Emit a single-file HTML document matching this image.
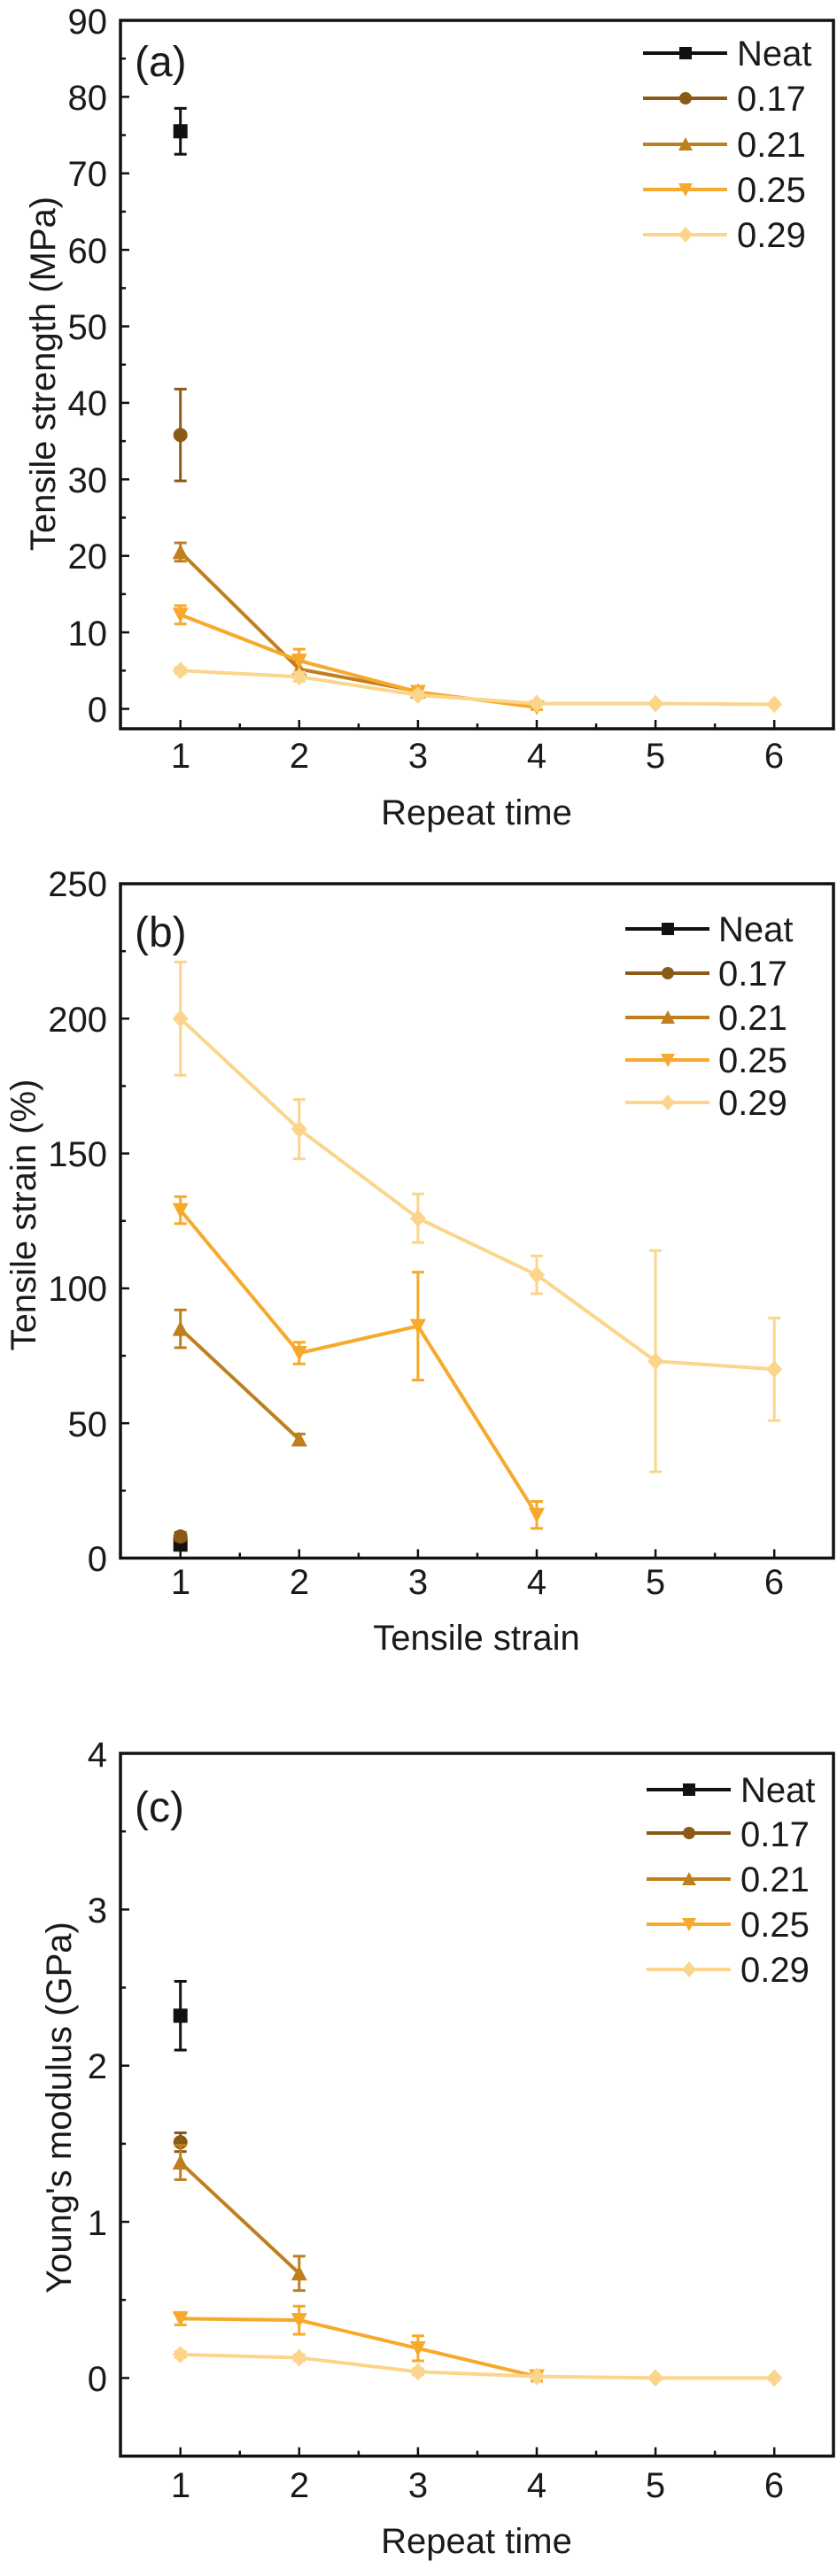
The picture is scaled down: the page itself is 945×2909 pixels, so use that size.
<!DOCTYPE html>
<html><head><meta charset="utf-8"><style>
html,body{margin:0;padding:0;background:#fff}
svg{display:block}
text{font-family:"Liberation Sans",Arial,sans-serif;fill:#1a1a1a}
.t{font-size:40px}
.ti{font-size:40px}
.lg{font-size:40px}
.pl{font-size:48px}
</style></head><body>
<svg id="s" width="945" height="2909" viewBox="0 0 945 2909" xmlns="http://www.w3.org/2000/svg">
<rect width="945" height="2909" fill="#fff"/>
<g id="g"></g>
<!-- Panel a text -->
<g class="t" text-anchor="end">
<text x="121" y="815">0</text><text x="121" y="729">10</text><text x="121" y="642">20</text><text x="121" y="556">30</text><text x="121" y="469">40</text><text x="121" y="383">50</text><text x="121" y="297">60</text><text x="121" y="210">70</text><text x="121" y="124">80</text><text x="121" y="38">90</text>
</g>
<g class="t" text-anchor="middle">
<text x="204" y="867">1</text><text x="338" y="867">2</text><text x="472" y="867">3</text><text x="606" y="867">4</text><text x="740" y="867">5</text><text x="874" y="867">6</text>
</g>
<text class="ti" x="538" y="931" text-anchor="middle">Repeat time</text>
<text class="ti" transform="translate(62,422) rotate(-90)" text-anchor="middle">Tensile strength (MPa)</text>
<text class="pl" x="152" y="86">(a)</text>
<g class="lg"><text x="832" y="74">Neat</text><text x="832" y="125">0.17</text><text x="832" y="177">0.21</text><text x="832" y="228">0.25</text><text x="832" y="279">0.29</text></g>

<!-- Panel b text -->
<g class="t" text-anchor="end">
<text x="121" y="1774">0</text><text x="121" y="1622">50</text><text x="121" y="1469">100</text><text x="121" y="1317">150</text><text x="121" y="1165">200</text><text x="121" y="1012">250</text>
</g>
<g class="t" text-anchor="middle">
<text x="204" y="1800">1</text><text x="338" y="1800">2</text><text x="472" y="1800">3</text><text x="606" y="1800">4</text><text x="740" y="1800">5</text><text x="874" y="1800">6</text>
</g>
<text class="ti" x="538" y="1863" text-anchor="middle">Tensile strain</text>
<text class="ti" transform="translate(40,1372) rotate(-90)" text-anchor="middle">Tensile strain (%)</text>
<text class="pl" x="152" y="1069">(b)</text>
<g class="lg"><text x="811" y="1063">Neat</text><text x="811" y="1113">0.17</text><text x="811" y="1163">0.21</text><text x="811" y="1211">0.25</text><text x="811" y="1259">0.29</text></g>

<!-- Panel c text -->
<g class="t" text-anchor="end">
<text x="121" y="2700">0</text><text x="121" y="2524">1</text><text x="121" y="2347">2</text><text x="121" y="2171">3</text><text x="121" y="1995">4</text>
</g>
<g class="t" text-anchor="middle">
<text x="204" y="2820">1</text><text x="338" y="2820">2</text><text x="472" y="2820">3</text><text x="606" y="2820">4</text><text x="740" y="2820">5</text><text x="874" y="2820">6</text>
</g>
<text class="ti" x="538" y="2883" text-anchor="middle">Repeat time</text>
<text class="ti" transform="translate(80,2380) rotate(-90)" text-anchor="middle">Young's modulus (GPa)</text>
<text class="pl" x="152" y="2057">(c)</text>
<g class="lg"><text x="836" y="2035">Neat</text><text x="836" y="2085">0.17</text><text x="836" y="2136">0.21</text><text x="836" y="2187">0.25</text><text x="836" y="2238">0.29</text></g>
</svg>
<script>
var NS="http://www.w3.org/2000/svg",G=document.getElementById("g");
function el(t,a){var e=document.createElementNS(NS,t);for(var k in a)e.setAttribute(k,a[k]);G.appendChild(e);return e;}
var C=["#111","#8a5a16","#c07f1f","#f6a92a","#fbd58c"];
var M=["sq","ci","up","dn","di"];
function mk(x,y,m,c,s){s=s||8;
 if(m=="sq")el("rect",{x:x-s,y:y-s,width:2*s,height:2*s,fill:c});
 else if(m=="ci")el("circle",{cx:x,cy:y,r:s,fill:c});
 else if(m=="up")el("polygon",{points:(x-s-1)+","+(y+s)+" "+(x+s+1)+","+(y+s)+" "+x+","+(y-s-1),fill:c});
 else if(m=="dn")el("polygon",{points:(x-s-1)+","+(y-s)+" "+(x+s+1)+","+(y-s)+" "+x+","+(y+s+1),fill:c});
 else el("polygon",{points:x+","+(y-s-2)+" "+(x+s+1)+","+y+" "+x+","+(y+s+2)+" "+(x-s-1)+","+y,fill:c});}
function X(n){return 203.7+134.1*(n-1);}
function panel(P){
 var Y=P.Y;
 el("rect",{x:136,y:P.top,width:805,height:P.bot-P.top,fill:"none",stroke:"#111","stroke-width":3.5});
 for(var v=P.y0;v<=P.y1+1e-9;v+=P.minor){var maj=Math.abs(v/P.major-Math.round(v/P.major))<1e-6;
  el("line",{x1:136,x2:136+(maj?10:6),y1:Y(v),y2:Y(v),stroke:"#111","stroke-width":2.5});}
 for(var n=0.5;n<=6.6;n+=0.5){var maj=Math.abs(n-Math.round(n))<1e-6, x=X(n); if(x<137||x>940)continue;
  el("line",{x1:x,x2:x,y1:P.bot,y2:P.bot-(maj?10:6),stroke:"#111","stroke-width":2.5});}
 P.s.forEach(function(s,i){var c=C[i];
  if(s.length>1)el("polyline",{points:s.map(function(p){return X(p[0])+","+Y(p[1]);}).join(" "),fill:"none",stroke:c,"stroke-width":4});
  s.forEach(function(p){if(p[2]){var x=X(p[0]),a=Y(p[1]+p[2]),b=Y(p[1]-p[2]);
   el("line",{x1:x,x2:x,y1:a,y2:b,stroke:c,"stroke-width":3});
   el("line",{x1:x-7,x2:x+7,y1:a,y2:a,stroke:c,"stroke-width":3});
   el("line",{x1:x-7,x2:x+7,y1:b,y2:b,stroke:c,"stroke-width":3});}
   mk(X(p[0]),Y(p[1]),M[i],c);});
 });
 P.leg.forEach(function(y,i){el("line",{x1:P.lx,x2:P.lx+95,y1:y,y2:y,stroke:C[i],"stroke-width":4});mk(P.lx+48,y,M[i],C[i],7);});
}
panel({top:23,bot:823,y0:0,y1:90,minor:5,major:10,Y:function(v){return 800.5-8.639*v;},lx:726,leg:[60,111,163,214,265],
 s:[[[1,75.5,3]],[[1,35.8,6]],[[1,20.5,1.2],[2,5.2,1],[3,2.3,0.5]],[[1,12.3,1.2],[2,6.3,1.5],[3,2.2,0.5],[4,0.2,0.3]],
 [[1,5,0.4],[2,4.2,0.6],[3,1.8,0.4],[4,0.7,0.2],[5,0.7,0.1],[6,0.6,0.1]]]});
panel({top:998,bot:1759.5,y0:0,y1:250,minor:25,major:50,Y:function(v){return 1759.5-3.046*v;},lx:706,leg:[1049,1099,1149,1197,1245],
 s:[[[1,5,1]],[[1,8,1.5]],[[1,85,7],[2,44,2]],[[1,129,5],[2,76,4],[3,86,20],[4,16,5]],
 [[1,200,21],[2,159,11],[3,126,9],[4,105,7],[5,73,41],[6,70,19]]]});
panel({top:1980,bot:2773.6,y0:-0.5,y1:4,minor:0.5,major:1,Y:function(v){return 2685.4-176.35*v;},lx:730,leg:[2021,2070,2122,2173,2224],
 s:[[[1,2.32,0.22]],[[1,1.51,0.06]],[[1,1.38,0.11],[2,0.67,0.11]],[[1,0.38,0.04],[2,0.37,0.09],[3,0.19,0.08],[4,0.01,0.03]],
 [[1,0.15,0.02],[2,0.13,0.02],[3,0.04,0.02],[4,0.01,0.01],[5,0,0.01],[6,0,0.01]]]});
</script>
</body></html>
